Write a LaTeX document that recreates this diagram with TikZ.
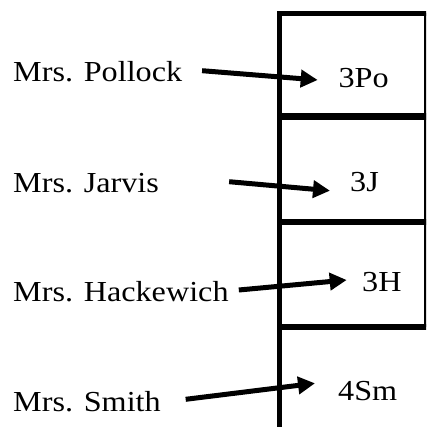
\documentclass[tikz,border=0pt]{standalone}
\usepackage{fontspec}
\setmainfont[FakeStretch=1.11]{Liberation Serif}
\usepackage{tikz}
\usetikzlibrary{calc,arrows.meta}

\tikzset{
    wall/.style={line width=5.5pt},
    lbl/.style={inner sep=0pt, anchor=base west, text height=19pt, text depth=0pt,
        font=\fontsize{29}{30}\selectfont},
    arr/.style={line width=5pt, -{Triangle[length=17pt,width=17pt]}}
}

\begin{document}
\begin{tikzpicture}[x=1pt,y=-1pt]
        \clip (0,0) rectangle (426,427);
        % the column of classes
        \draw[wall] (279.5,435) -- (279.5,13.5) -- (432,13.5);
        \draw[wall] (426.5,13.5) -- (426.5,327);
        \draw[wall, line width=7pt] (279.5,117) -- (432,117);
        \foreach \y in {222,327}
        \draw[wall] (279.5,\y) -- (432,\y);
        % teachers
        \node[lbl] (pol) at (13,81.7) {Mrs. Pollock};
        \node[lbl] (jar) at (13,192.7) {Mrs. Jarvis};
        \node[lbl] (hac) at (13,301) {Mrs. Hackewich};
        \node[lbl] (smi) at (13,411.7) {Mrs. Smith};
        % classes
        \node[lbl] (po) at (338.3,87.7) {3Po};
        \node[lbl] (j) at (350,192) {3J};
        \node[lbl] (h) at (362,291.7) {3H};
        \node[lbl] (sm) at (338,400) {4Sm};
        \draw[arr] ([shift={(19.7,-1.5)}]pol.east) -- ([shift={(-20.6,1.8)}]po.west);
        \draw[arr] ([shift={(70,-1.5)}]jar.east) -- ([shift={(-20,8.2)}]j.west);
        \draw[arr] ([shift={(10,-1.5)}]hac.east) -- ([shift={(-15.3,-2.2)}]h.west);
        \draw[arr] ([shift={(24.7,-2.9)}]smi.east) -- ([shift={(-23,-7.2)}]sm.west);
    \end{tikzpicture}
\end{document}
